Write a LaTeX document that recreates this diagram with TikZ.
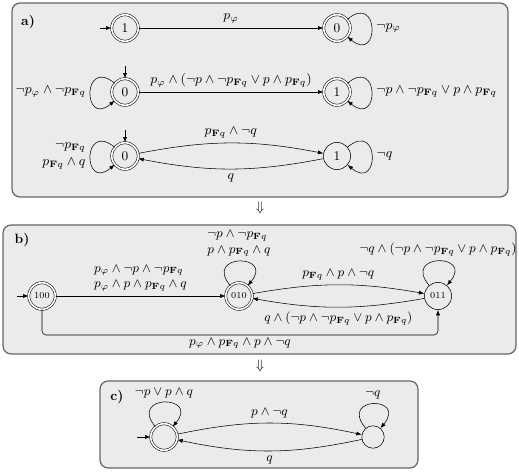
\RequirePackage{fix-cm}
\documentclass[tikz,border=0pt]{standalone}
\usetikzlibrary{arrows.meta}
\newcommand{\pFq}{p_{\mathbf{F}q}}
\begin{document}
\begin{tikzpicture}[x=0.735pt,y=-0.735pt,
  st/.style={circle,draw,minimum size=20pt,inner sep=0pt},
  acc/.style={circle,draw,double,double distance=1.2pt,minimum size=19.5pt,inner sep=0pt},
  tr/.style={-{Latex[length=4pt,width=3pt]}},
  lp/.style={tr,distance=31pt},
  panel/.style={draw=black!60,fill=black!8,rounded corners=6pt,line width=0.9pt},
  big/.style={font=\fontsize{9.8}{12}\selectfont},
  mid/.style={font=\fontsize{9.5}{11.5}\selectfont},
  sm/.style={font=\fontsize{6.7}{8}\selectfont}]
\useasboundingbox (0,0) rectangle (519,476);
% ---------- panel a
\draw[panel] (12,3) rectangle (508,197);
\node[font=\bfseries] (la) at (28,22) {a)};
\begin{scope}[every node/.append style={big}]
\node[acc] (a1) at (125,28) {1};
\node[acc] (a2) at (337,28) {0};
\node[acc] (a3) at (125,92) {0};
\node[acc] (a4) at (337,92) {1};
\node[acc] (a5) at (125,156) {0};
\node[st]  (a6) at (337,156) {1};
\coordinate (ia1) at (100,28);
\coordinate (ia3) at (125,66);
\coordinate (ia5) at (125,130);
\draw[tr] (ia1) -- (a1);
\draw[tr] (ia3) -- (a3);
\draw[tr] (ia5) -- (a5);
\draw[tr] (a1) -- node[above] {$p_\varphi$} (a2);
\draw[lp] (a2) to[out=40,in=-40] node[right] {$\neg p_\varphi$} (a2);
\draw[tr] (a3) -- node[above] {$p_\varphi \wedge (\neg p\wedge\neg\pFq \vee p\wedge\pFq)$} (a4);
\draw[lp] (a3) to[out=140,in=-140] node[left] {$\neg p_\varphi\wedge\neg\pFq$} (a3);
\draw[lp] (a4) to[out=40,in=-40] node[right] {$\neg p\wedge\neg\pFq \vee p\wedge\pFq$} (a4);
\draw[tr] (a5) to[bend left=11] node[above] {$\pFq\wedge\neg q$} (a6);
\draw[tr] (a6) to[bend left=11] node[below] {$q$} (a5);
\draw[lp] (a5) to[out=140,in=-140] node[left,align=right] {$\neg\pFq$\\$\pFq\wedge q$} (a5);
\draw[lp] (a6) to[out=40,in=-40] node[right] {$\neg q$} (a6);
\end{scope}
% arrows between panels
\node (d1) at (260,208) {$\Downarrow$};
\node (d2) at (260,366) {$\Downarrow$};
% ---------- panel b
\draw[panel] (3,225) rectangle (516,354);
\node[font=\bfseries] (lb) at (22,240) {b)};
\begin{scope}[every node/.append style={mid}]
\node[acc,sm] (b1) at (42,296) {100};
\node[acc,sm] (b2) at (239,296) {010};
\node[st,sm]  (b3) at (438,296) {011};
\coordinate (ib1) at (17,296);
\draw[tr] (ib1) -- (b1);
\draw[tr] (b1) -- node[above,align=left] {$p_\varphi\wedge\neg p\wedge\neg\pFq$\\$p_\varphi\wedge p\wedge\pFq\wedge q$} (b2);
\draw[lp] (b2) to[out=130,in=50] node[above,align=left] {$\neg p\wedge\neg\pFq$\\$p\wedge\pFq\wedge q$} (b2);
\draw[lp] (b3) to[out=130,in=50] node[above] {$\neg q\wedge(\neg p\wedge\neg\pFq\vee p\wedge\pFq)$} (b3);
\draw[tr] (b2) to[bend left=10] node[above] {$\pFq\wedge p\wedge\neg q$} (b3);
\draw[tr] (b3) to[bend left=10] node[below] {$q\wedge(\neg p\wedge\neg\pFq\vee p\wedge\pFq)$} (b2);
\coordinate (bc) at (240,335);
\draw[tr,rounded corners=3pt] (b1) |- (bc) node[below,inner sep=2pt] {$p_\varphi\wedge\pFq\wedge p\wedge\neg q$} -| (b3);
\end{scope}
% ---------- panel c
\draw[panel] (100,381) rectangle (418,468);
\node[font=\bfseries] (lc) at (117,397) {c)};
\begin{scope}[every node/.append style={mid}]
\node[acc,minimum size=19.5pt] (c1) at (164,437) {};
\node[st,minimum size=16.5pt] (c2) at (373,437) {};
\coordinate (ic1) at (137,437);
\draw[tr] (ic1) -- (c1);
\draw[lp] (c1) to[out=130,in=50] node[above] {$\neg p\vee p\wedge q$} (c1);
\draw[lp] (c2) to[out=130,in=50] node[above] {$\neg q$} (c2);
\draw[tr] (c1) to[bend left=12] node[above] {$p\wedge\neg q$} (c2);
\draw[tr] (c2) to[bend left=12] node[below] {$q$} (c1);
\end{scope}
\end{tikzpicture}
\end{document}
